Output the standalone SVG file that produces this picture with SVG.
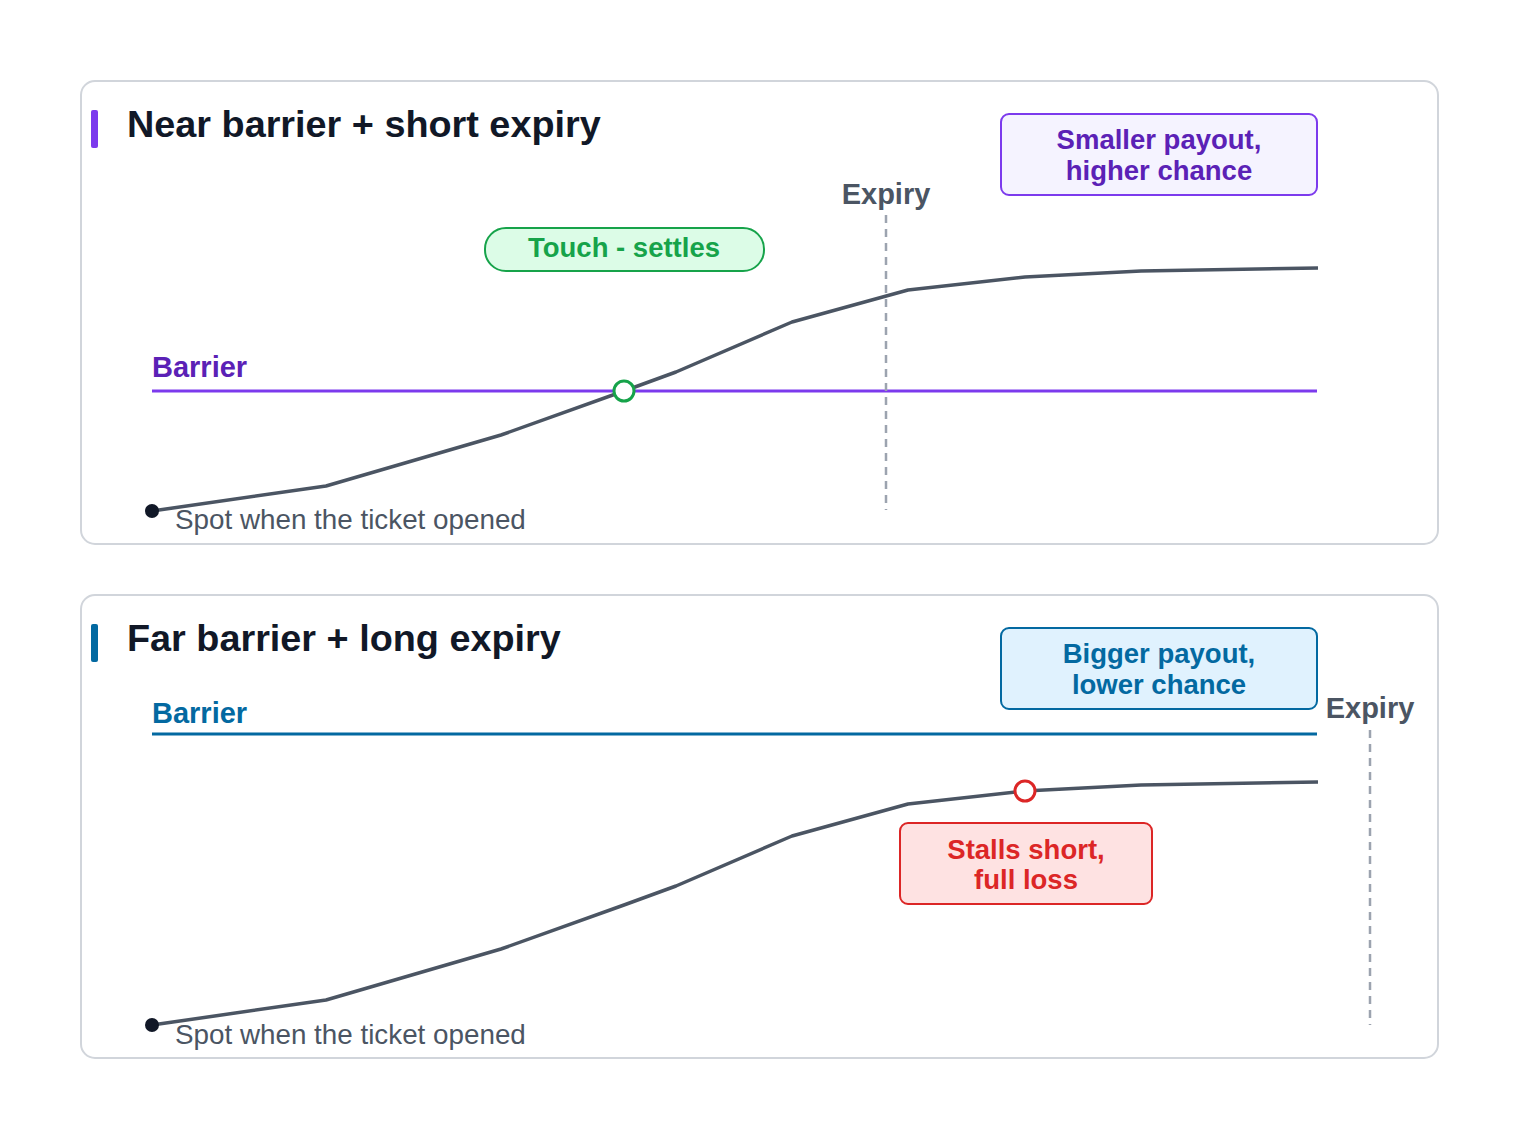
<svg xmlns="http://www.w3.org/2000/svg" width="1520" height="1140" viewBox="0 0 1520 1140">
<style>
text{font-family:"Liberation Sans",Arial,sans-serif}
.panel{fill:#fff;stroke:#d1d5db;stroke-width:2}
.title{font-size:37.8px;font-weight:bold;fill:#111827}
.lbl{font-size:29px;font-weight:bold}
.curve{fill:none;stroke:#4b5563;stroke-width:3.5;stroke-linejoin:round}
.dash{stroke:#9ca3af;stroke-width:2.5;stroke-dasharray:8 6}
.spot{font-size:27.8px;fill:#4b5563}
.box{font-size:27.5px;font-weight:bold;text-anchor:middle}
</style>
<rect width="1520" height="1140" fill="#fff"/>
<g id="panel1">
<rect class="panel" x="81" y="81" width="1357" height="463" rx="14"/>
<rect x="91" y="110" width="7" height="38" rx="2" fill="#7c3aed"/>
<text class="title" x="127" y="137">Near barrier + short expiry</text>
</g>
<g id="panel2">
<rect class="panel" x="81" y="595" width="1357" height="463" rx="14"/>
<rect x="91" y="624" width="7" height="38" rx="2" fill="#0369a1"/>
<text class="title" x="127" y="651">Far barrier + long expiry</text>
</g>
<g id="connectors">
<line x1="152" y1="391" x2="1317" y2="391" stroke="#7c3aed" stroke-width="3"/>
<line class="dash" x1="886" y1="215" x2="886" y2="510"/>
<polyline class="curve" points="152,511 326,486 501,435 624,391 676,372 792,322 908,290 1025,277 1141,271 1318,268"/>
<line x1="152" y1="734" x2="1317" y2="734" stroke="#0369a1" stroke-width="3"/>
<line class="dash" x1="1370" y1="730" x2="1370" y2="1025"/>
<polyline class="curve" points="152,1025 326,1000 501,949 624,905 676,886 792,836 908,804 1025,791 1141,785 1318,782"/>
</g>
<g id="labels1">
<text class="lbl" x="152" y="377" fill="#5b21b6">Barrier</text>
<text class="lbl" x="886" y="204" fill="#4b5563" text-anchor="middle">Expiry</text>
<circle cx="152" cy="511" r="7" fill="#111827"/>
<text class="spot" x="175" y="529">Spot when the ticket opened</text>
</g>
<g id="touch">
<rect x="485" y="228" width="279" height="43" rx="21" fill="#dcfce7" stroke="#16a34a" stroke-width="2"/>
<text class="box" x="624" y="257" fill="#16a34a">Touch - settles</text>
<circle cx="624" cy="391" r="10" fill="#fff" stroke="#16a34a" stroke-width="3"/>
</g>
<g id="smaller">
<rect x="1001" y="114" width="316" height="81" rx="8" fill="#f5f3ff" stroke="#7c3aed" stroke-width="2"/>
<text class="box" x="1159" y="149" fill="#5b21b6">Smaller payout,</text>
<text class="box" x="1159" y="180" fill="#5b21b6">higher chance</text>
</g>
<g id="labels2">
<text class="lbl" x="152" y="723" fill="#0369a1">Barrier</text>
<text class="lbl" x="1370" y="718" fill="#4b5563" text-anchor="middle">Expiry</text>
<circle cx="152" cy="1025" r="7" fill="#111827"/>
<text class="spot" x="175" y="1044">Spot when the ticket opened</text>
</g>
<g id="bigger">
<rect x="1001" y="628" width="316" height="81" rx="8" fill="#e0f2fe" stroke="#0369a1" stroke-width="2"/>
<text class="box" x="1159" y="663" fill="#0369a1">Bigger payout,</text>
<text class="box" x="1159" y="694" fill="#0369a1">lower chance</text>
</g>
<g id="stalls">
<circle cx="1025" cy="791" r="10" fill="#fff" stroke="#dc2626" stroke-width="3"/>
<rect x="900" y="823" width="252" height="81" rx="8" fill="#fee2e2" stroke="#dc2626" stroke-width="2"/>
<text class="box" x="1026" y="859" fill="#dc2626">Stalls short,</text>
<text class="box" x="1026" y="889" fill="#dc2626">full loss</text>
</g>
</svg>
